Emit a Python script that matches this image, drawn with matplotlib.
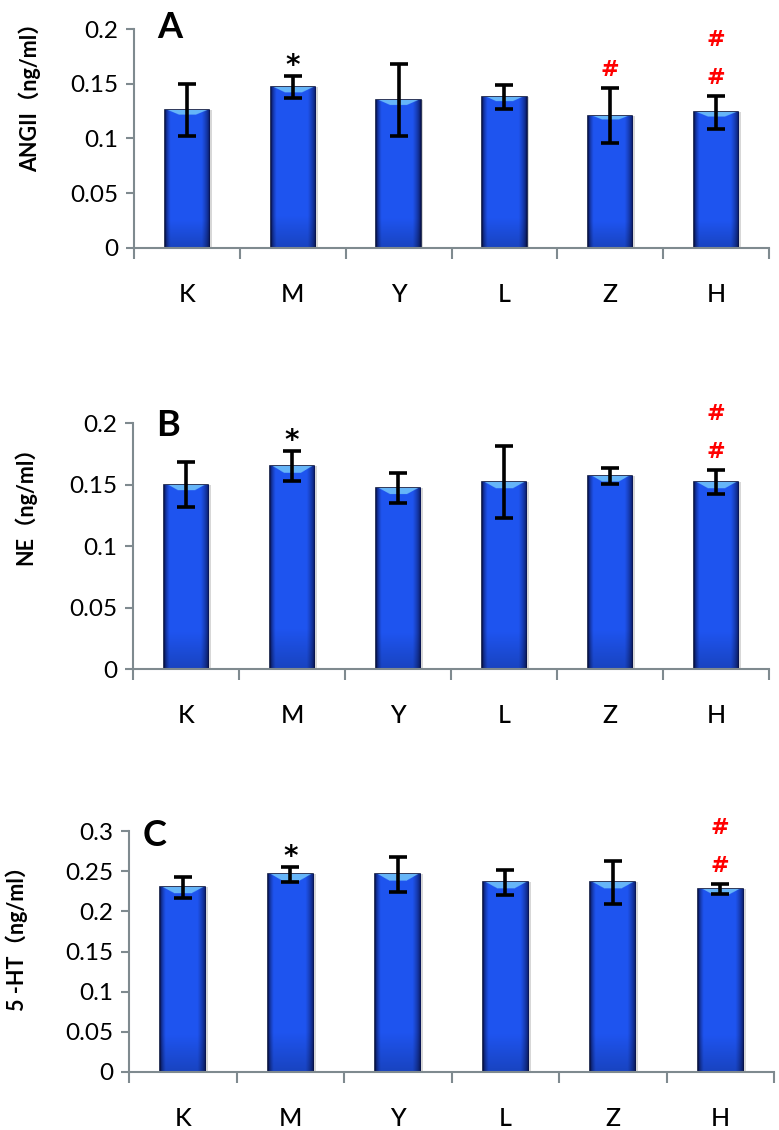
import numpy as np
import matplotlib
matplotlib.use("Agg")
import matplotlib.pyplot as plt

plt.rcParams['font.family'] = ['Lato', 'Noto Sans CJK SC', 'DejaVu Sans']

groups = ["K", "M", "Y", "L", "Z", "H"]

# panel A: ANGII
angii_mean = [0.126, 0.147, 0.135, 0.138, 0.121, 0.124]
angii_err = [0.024, 0.010, 0.033, 0.011, 0.025, 0.015]
# panel B: NE
ne_mean = [0.150, 0.165, 0.147, 0.152, 0.157, 0.152]
ne_err = [0.018, 0.012, 0.012, 0.029, 0.0065, 0.010]
# panel C: 5-HT
ht_mean = [0.230, 0.246, 0.246, 0.236, 0.236, 0.228]
ht_err = [0.013, 0.009, 0.022, 0.016, 0.027, 0.006]

ylabels = ["ANGII（ng/ml）", "NE（ng/ml）", "5 -HT（ng/ml）"]
letters = ["A", "B", "C"]
ymax = [0.2, 0.2, 0.3]
yticks = [[0, 0.05, 0.1, 0.15, 0.2], [0, 0.05, 0.1, 0.15, 0.2],
          [0, 0.05, 0.1, 0.15, 0.2, 0.25, 0.3]]
# significance marks: (group index, symbol, colour, stack level)
marks = [
    [(1, "*", "black", 0), (4, "#", "red", 0), (5, "#", "red", 0), (5, "#", "red", 1)],
    [(1, "*", "black", 0), (5, "#", "red", 0), (5, "#", "red", 1)],
    [(1, "*", "black", 0), (5, "#", "red", 0), (5, "#", "red", 1)],
]

W, H = 779, 1130
fig = plt.figure(figsize=(W / 100, H / 100), dpi=100)

# axes boxes in pixels: left, top, right, bottom
boxes = [(134, 29, 769, 248), (133, 423, 769, 669), (129, 831, 774, 1072)]
ylab_pos = [(30, 92), (25, 501), (17, 933)]
letter_pos = [(170, 28), (168, 425), (155, 835)]

# bar shading image: thin dark edges, bright flat centre
nx, ny = 80, 300
xs = np.linspace(0, 1, nx)
prof = np.clip(np.minimum(xs / 0.12, (1 - xs) / 0.18), 0, 1) ** 0.6
dark = np.array([0.03, 0.07, 0.30])
bright = np.array([0.12, 0.33, 0.94])
col = dark[None, :] + (bright - dark)[None, :] * prof[:, None]
img = np.repeat(col[None, :, :], ny, axis=0)
ys = np.linspace(0, 1, ny)
img = img * (0.8 + 0.2 * np.clip(ys / 0.2, 0, 1))[:, None, None]
# light wedge at the top
cap = np.array([0.45, 0.78, 0.98])
for j in range(ny - 10, ny):
    inset = 6 + (ny - 1 - j) * 2
    img[j, inset:nx - inset] = cap * 0.85 + img[j, inset:nx - inset] * 0.15
img = np.clip(img, 0, 1)

data = [(angii_mean, angii_err), (ne_mean, ne_err), (ht_mean, ht_err)]
x = np.arange(len(groups))
for p, (means, errs) in enumerate(data):
    l, t, r, b = boxes[p]
    ax = fig.add_axes([l / W, 1 - b / H, (r - l) / W, (b - t) / H])
    bars = ax.bar(x, means, width=0.42, color="#2050e0", edgecolor="#0a1640",
                  linewidth=1.2, zorder=2)
    for bar in bars:
        bx, by = bar.get_x(), bar.get_y()
        bw, bh = bar.get_width(), bar.get_height()
        # soft shadow
        ax.bar(bx + bw / 2 + 0.025, bh, width=bw, color="#b0b0b0", alpha=0.5,
               linewidth=0, zorder=1)
        im = ax.imshow(img, extent=[bx, bx + bw, by, by + bh], origin="lower",
                       aspect="auto", zorder=2.5)
        im.set_clip_path(bar)
    ax.errorbar(x, means, yerr=errs, fmt="none", ecolor="black", elinewidth=2.6,
                capsize=6.5, capthick=2.6, zorder=4)
    top = [m + e for m, e in zip(means, errs)]
    for gi, sym, c, lvl in marks[p]:
        if sym == "*":
            ax.annotate(sym, (x[gi], top[gi]), xytext=(0, -4), textcoords="offset pixels",
                        ha="center", va="bottom", fontsize=20, fontweight="bold",
                        color=c, family="DejaVu Sans")
        else:
            ax.annotate(sym, (x[gi], top[gi]), xytext=(0, 18 + 38 * lvl),
                        textcoords="offset pixels", ha="center", va="center",
                        fontsize=16, fontweight="bold", color=c, family="DejaVu Sans")

    ax.set_xlim(-0.5, len(groups) - 0.5)
    ax.set_ylim(0, ymax[p])
    ax.set_yticks(yticks[p])
    ax.set_yticklabels([("%g" % v) for v in yticks[p]])
    ax.set_xticks(x)
    ax.set_xticklabels(groups, fontweight="medium")
    ax.set_xticks(np.arange(len(groups) + 1) - 0.5, minor=True)
    ax.tick_params(axis="x", which="major", length=0, pad=25, labelsize=18)
    ax.tick_params(axis="x", which="minor", length=8, width=1.5, color="#7f8a8f",
                   direction="out")
    ax.tick_params(axis="y", length=6, width=1.5, color="#7f8a8f", labelsize=17.5,
                   pad=5)
    for s in ["top", "right"]:
        ax.spines[s].set_visible(False)
    for s in ["left", "bottom"]:
        ax.spines[s].set_color("#7f8a8f")
        ax.spines[s].set_linewidth(1.5)
    ax.patch.set_alpha(0)

    lx, ly = ylab_pos[p]
    fig.text(lx / W, 1 - ly / H, ylabels[p], rotation=90, ha="center", va="center",
             fontsize=15.5, fontweight="bold")
    px, py = letter_pos[p]
    fig.text(px / W, 1 - py / H, letters[p], ha="center", va="center",
             fontsize=26, fontweight="bold")

fig.savefig("out.png", dpi=100)
